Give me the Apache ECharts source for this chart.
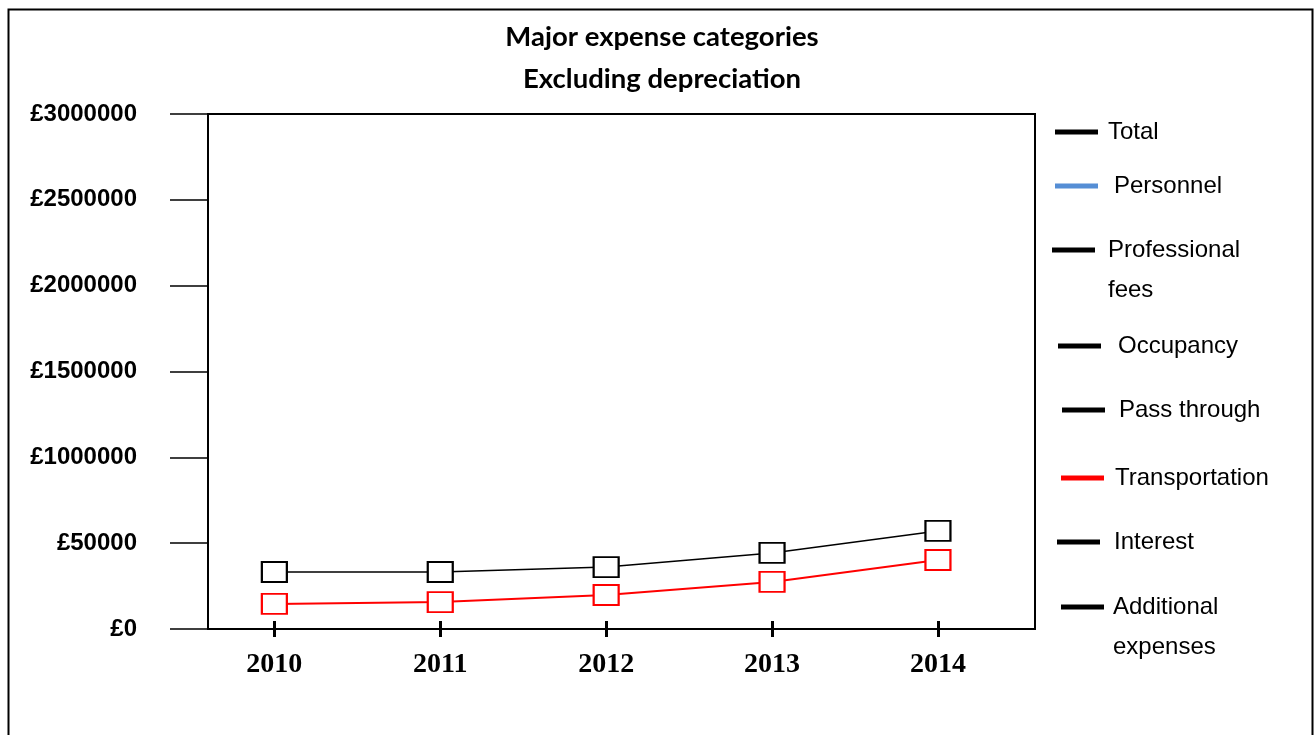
<!DOCTYPE html>
<html><head><meta charset="utf-8">
<script src="https://cdn.jsdelivr.net/npm/echarts@6/dist/echarts.min.js"></script>
<style>html,body{margin:0;padding:0;background:#fff}#c{width:1314px;height:735px}</style>
</head><body><div id="c"></div>
<script>
// ---- data ----
const years = [2010, 2011, 2012, 2013, 2014];
const seriesNames = ['Total', 'Personnel', 'Professional fees', 'Occupancy', 'Pass through', 'Transportation', 'Interest', 'Additional expenses'];
const seriesColors = ['#000000', '#558ED5', '#000000', '#000000', '#000000', '#FF0000', '#000000', '#000000'];
const totalValues = [332000, 332000, 361000, 443000, 571000];
const transportationValues = [146000, 157000, 198000, 274000, 402000];
const yTickLabels = ['£0', '£50000', '£1000000', '£1500000', '£2000000', '£2500000', '£3000000'];
const titleLines = ['Major expense categories', 'Excluding depreciation'];
const legendLabels = ['Total', 'Personnel', 'Professional\nfees', 'Occupancy', 'Pass through', 'Transportation', 'Interest', 'Additional\nexpenses'];
const valuesByName = { 'Total': totalValues, 'Transportation': transportationValues };

// ---- layout ----
const SANS = '"Liberation Sans", Arial, sans-serif';
const legendPos = [
  { left: 1055, cy: 132, pad: 5 },
  { left: 1055, cy: 186, pad: 11 },
  { left: 1052, cy: 250, pad: 8 },
  { left: 1058, cy: 346, pad: 12 },
  { left: 1062, cy: 410, pad: 9 },
  { left: 1061, cy: 478, pad: 6 },
  { left: 1057, cy: 542, pad: 9 },
  { left: 1061, cy: 607, pad: 4 }
];

const chart = echarts.init(document.getElementById('c'), null, { renderer: 'canvas' });

const legends = seriesNames.map((name, i) => {
  const multi = legendLabels[i].indexOf('\n') >= 0;
  const lh = multi ? 40 : 30;
  const nLines = multi ? 3 : 1;
  return {
    orient: 'vertical',
    left: legendPos[i].left,
    top: legendPos[i].cy - (lh * nLines) / 2,
    padding: 0,
    itemWidth: 43,
    itemHeight: 5,
    selectedMode: false,
    icon: 'rect',
    data: [{ name: name, itemStyle: { color: seriesColors[i], borderWidth: 0 } }],
    formatter: () => (multi ? '\n' : '') + legendLabels[i],
    textStyle: {
      fontFamily: SANS, fontSize: 24, color: '#000', lineHeight: lh,
      padding: [0, 0, 0, legendPos[i].pad]
    }
  };
});

const series = seriesNames.map((name, i) => {
  const vals = valuesByName[name] || [];
  return {
    name: name,
    type: 'line',
    data: vals.map((v, k) => [years[k], v]),
    symbol: 'rect',
    symbolSize: [25, 20],
    showSymbol: true,
    itemStyle: { color: '#ffffff', borderColor: seriesColors[i], borderWidth: 2 },
    lineStyle: { color: seriesColors[i], width: name === 'Total' ? 1.6 : 2 },
    emphasis: { disabled: true },
    animation: false
  };
});

const option = {
  animation: false,
  backgroundColor: '#ffffff',
  title: {
    text: titleLines.join('\n'),
    left: 662,
    textAlign: 'center',
    top: 16,
    padding: 0,
    textStyle: { fontFamily: 'Lato, "Open Sans", sans-serif', fontWeight: 'bold', fontSize: 27.5, lineHeight: 42, color: '#000' }
  },
  legend: legends,
  grid: {
    left: 208, top: 114, right: 279, bottom: 106,
    show: true, borderColor: '#000', borderWidth: 2, backgroundColor: 'transparent'
  },
  xAxis: [
    {
      type: 'value', min: 2009.6, max: 2014.585,
      position: 'bottom',
      axisLine: { show: true, onZero: false, lineStyle: { color: '#000', width: 2 } },
      axisTick: { show: true, inside: false, length: 8, customValues: years, lineStyle: { color: '#000', width: 3 } },
      axisLabel: {
        show: true, customValues: years, margin: 22,
        formatter: v => String(Math.round(v)),
        fontFamily: '"Liberation Serif", "Times New Roman", serif', fontWeight: 'bold', fontSize: 28, color: '#000'
      },
      splitLine: { show: false }
    },
    {
      type: 'value', min: 2009.6, max: 2014.585,
      position: 'bottom',
      axisLine: { show: false, onZero: false },
      axisTick: { show: true, inside: true, length: 8, customValues: years, lineStyle: { color: '#000', width: 3 } },
      axisLabel: { show: false },
      splitLine: { show: false }
    }
  ],
  yAxis: {
    type: 'value', min: 0, max: 3000000, interval: 500000,
    axisLine: { show: true, lineStyle: { color: '#000', width: 2 } },
    axisTick: { show: true, inside: false, length: 38, lineStyle: { color: '#000', width: 1.5 } },
    axisLabel: {
      margin: 71,
      formatter: v => yTickLabels[Math.round(v / 500000)],
      fontFamily: SANS, fontWeight: 'bold', fontSize: 24, color: '#000'
    },
    splitLine: { show: false }
  },
  graphic: [
    {
      type: 'rect', left: 6, top: 7, silent: true, z: 100,
      shape: { width: 1304, height: 760 },
      style: { fill: 'none', stroke: '#000', lineWidth: 2 }
    }
  ],
  series: series
};
chart.setOption(option);
</script>
</body></html>
